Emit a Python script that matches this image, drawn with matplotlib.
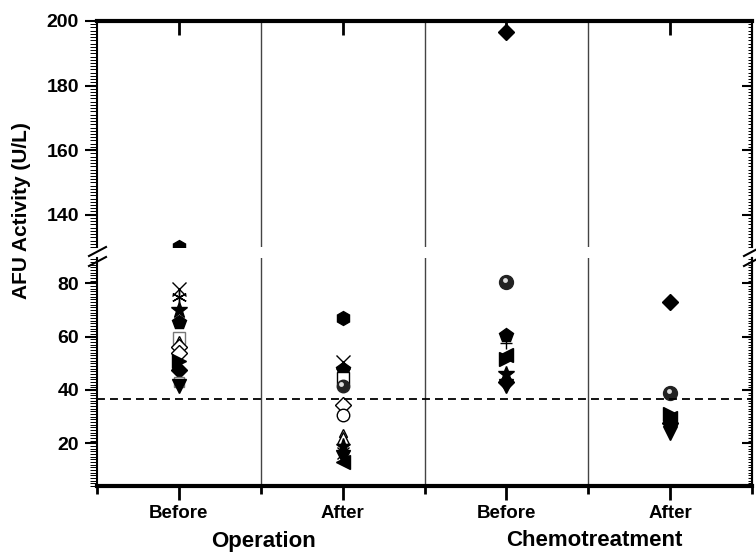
import matplotlib
matplotlib.use('Agg')
import matplotlib.pyplot as plt
import matplotlib.transforms as mtrans
from matplotlib.ticker import MultipleLocator

plt.rcParams['font.family'] = ['Liberation Sans', 'DejaVu Sans']
plt.rcParams['font.weight'] = 'bold'

# AFU activity (U/L) per group
categories = ['Before', 'After', 'Before', 'After']
groups = ['Operation', 'Chemotreatment']
op_before = [130, 78, 75, 70, 65.5, 59.5, 58, 56, 54, 51, 47.5, 43, 41.5]
op_after = [67, 50.5, 48, 44.5, 41.5, 34.5, 30.5, 24, 22, 19, 16.5, 15, 13]
ch_before = [196.5, 80.5, 60.5, 57.5, 53, 51.5, 46, 43, 41.5]
ch_after = [73, 39, 31, 29.5, 27.5, 25.5, 24]
cutoff = 36.7

AST = (6, 2, 0)
# marker styles: (marker, fill, size)
op_before_sty = [('h', 'f', 10), ('x', 'o', 10), (AST, 'o', 11), ('*', 'f', 12), ('p', 'f', 10),
                 ('s', 'g', 8), ('^', 'o', 8), ('D', 'o', 8), ('D', 'o', 8), ('>', 'f', 10),
                 ('D', 'f', 8), ('s', 'g', 7), ('v', 'f', 10)]
op_after_sty = [('h', 'f', 10), ('x', 'o', 10), ('p', 'f', 10), ('s', 'o', 8), ('sph', 'f', 9),
                ('D', 'o', 8), ('o', 'o', 9), ('^', 'o', 6), ('^', 'o', 8), ('*', 'f', 11),
                ('x', 'o', 8), ('v', 'f', 10), ('<', 'f', 10)]
ch_before_sty = [('D', 'f', 8), ('sph', 'f', 10), ('p', 'f', 10), ('+', 'o', 8), ('<', 'f', 10),
                 ('>', 'f', 10), ('*', 'f', 12), ('D', 'f', 8), ('v', 'f', 10)]
ch_after_sty = [('D', 'f', 8), ('sph', 'f', 10), ('>', 'f', 10), ('<', 'f', 10), ('D', 'f', 8),
                ('v', 'f', 10), ('v', 'f', 10)]

fills = {'f': dict(mfc='black', mec='black'),
         'o': dict(mfc='white', mec='black'),
         'g': dict(mfc='white', mec='#777777')}

W, H = 756, 552
fig = plt.figure(figsize=(W / 100, H / 100), dpi=100)
ax_top = fig.add_axes([97 / W, 1 - 247 / H, 655 / W, 226 / H])
ax_bot = fig.add_axes([97 / W, 1 - 486 / H, 655 / W, 228 / H])

xpos = [0.5, 1.5, 2.5, 3.5]
data = [op_before, op_after, ch_before, ch_after]
styles = [op_before_sty, op_after_sty, ch_before_sty, ch_after_sty]

for ax in (ax_top, ax_bot):
    ax.set_xlim(0, 4)
    for xv in [1, 2, 3]:
        ax.axvline(xv, color='#444444', lw=1)
    for x, vals, sty in zip(xpos, data, styles):
        for v, (m, f, s) in zip(vals, sty):
            if m == 'sph':
                ax.plot([x], [v], ls='none', marker='o', ms=s, mfc='#222222', mec='#222222')
                hl = mtrans.offset_copy(ax.transData, fig=fig, x=-1.0, y=1.4, units='points')
                ax.plot([x], [v], ls='none', marker='o', ms=3.5, mfc='#dddddd', mec='none',
                        transform=hl)
            else:
                ax.plot([x], [v], ls='none', marker=m, ms=s, mew=1, **fills[f])

ax_top.set_ylim(130, 200)
ax_bot.set_ylim(4, 89.5)
ax_bot.axhline(cutoff, color='black', lw=1.3, ls=(0, (4.4, 2.8)))

ax_top.set_yticks([140, 160, 180, 200])
ax_bot.set_yticks([20, 40, 60, 80])
for ax in (ax_top, ax_bot):
    ax.yaxis.set_minor_locator(MultipleLocator(1))
    ax.tick_params(axis='y', which='major', direction='out', length=9, width=1.5,
                   labelsize=14, pad=4)
    ax.tick_params(axis='y', which='minor', direction='out', length=5, width=0.7)
    ax.spines['left'].set_linewidth(1.5)
    ax.spines['right'].set_linewidth(1.5)
    sec = ax.secondary_yaxis('right')
    sec.set_yticks(ax.get_yticks())
    sec.yaxis.set_minor_locator(MultipleLocator(1))
    sec.tick_params(axis='y', which='major', direction='in', length=7, width=1.5,
                    labelright=False)
    sec.tick_params(axis='y', which='minor', direction='in', length=3, width=0.7)
    sec.spines['right'].set_linewidth(1.5)

ax_top.spines['bottom'].set_visible(False)
ax_top.spines['top'].set_linewidth(3)
ax_top.set_xticks(xpos)
ax_top.tick_params(axis='x', which='major', top=True, bottom=False, labeltop=False,
                   labelbottom=False, direction='in', length=10, width=2)

ax_bot.spines['top'].set_visible(False)
ax_bot.spines['bottom'].set_linewidth(3)
ax_bot.set_xticks(xpos)
ax_bot.set_xticklabels(categories)
ax_bot.set_xticks([0, 1, 2, 3, 4], minor=True)
ax_bot.tick_params(axis='x', which='major', direction='out', length=10, width=2,
                   labelsize=13.5, pad=4)
ax_bot.tick_params(axis='x', which='minor', direction='out', length=6, width=2)

# axis break marks
for x0 in (97, 752):
    for y0 in (252, 262):
        fig.add_artist(plt.Line2D([(x0 - 8) / W, (x0 + 9) / W],
                                  [1 - (y0 + 4) / H, 1 - (y0 - 5) / H],
                                  color='black', lw=1.5))

fig.text(22 / W, 1 - 211 / H, 'AFU Activity (U/L)', rotation=90, ha='center',
         va='center', fontsize=15, fontweight='bold')
fig.text(263 / W, 1 - 541 / H, groups[0], ha='center', va='center', fontsize=16,
         fontweight='bold')
fig.text(594 / W, 1 - 541 / H, groups[1], ha='center', va='center', fontsize=16,
         fontweight='bold')

fig.savefig('out.png', dpi=100)
